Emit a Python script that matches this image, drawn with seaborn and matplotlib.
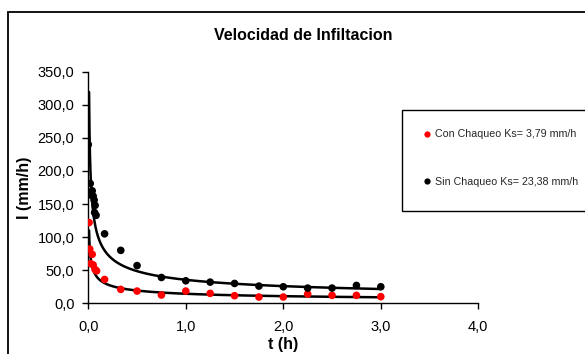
import numpy as np
import pandas as pd
import matplotlib
matplotlib.use("Agg")
import matplotlib.pyplot as plt
from matplotlib.patches import Rectangle
from matplotlib.lines import Line2D
import seaborn as sns

# Measured infiltration rates, I (mm/h) against time t (h)
con_t = [0.008, 0.015, 0.025, 0.04, 0.05, 0.07, 0.085, 0.167, 0.333, 0.5,
         0.75, 1.0, 1.25, 1.5, 1.75, 2.0, 2.25, 2.5, 2.75, 3.0]
con_I = [122, 82, 60, 74, 58, 51, 49, 36, 21, 18.5,
         12.5, 18.5, 15, 11.5, 9.5, 9.5, 14, 12, 12, 10]

sin_t = [0.0, 0.01, 0.02, 0.04, 0.05, 0.06, 0.065, 0.07, 0.08, 0.167, 0.333,
         0.5, 0.75, 1.0, 1.25, 1.5, 1.75, 2.0, 2.25, 2.5, 2.75, 3.0]
sin_I = [240, 164, 181, 170, 162, 156, 137, 148, 133, 105, 80,
         57, 39, 34, 32, 30, 26, 25, 23, 23, 27, 25]

series_names = ["Con Chaqueo Ks= 3,79 mm/h", "Sin Chaqueo Ks= 23,38 mm/h"]
series_colors = ["#FF0000", "#000000"]

# Power-law fit I = K * t^(-n) for each series
fit_K = [14.4, 35.5]
fit_n = [0.419, 0.4526]
fit_t_start = 0.0078
fit_t_end = 3.0

y_ticks = [0, 50, 100, 150, 200, 250, 300, 350]
x_ticks = [0, 1, 2, 3, 4]

pts = pd.concat([
    pd.DataFrame({"t": con_t, "I": con_I, "serie": series_names[0]}),
    pd.DataFrame({"t": sin_t, "I": sin_I, "serie": series_names[1]}),
], ignore_index=True)

sns.set_theme(style="white")
plt.rcParams["font.family"] = ["Liberation Sans", "DejaVu Sans"]

W, H = 585, 354
fig = plt.figure(figsize=(W / 100, H / 100), dpi=100)
fig.patch.set_facecolor("white")

def fx(px):
    return px / W

def fy(py):
    return 1 - py / H

ax = fig.add_axes([fx(88.3), fy(303.3), fx(478.3) - fx(88.3), fy(71.7) - fy(303.3)])
ax.set_facecolor("white")

# Fitted curves
tgrid = np.geomspace(fit_t_start, fit_t_end, 500)
for K, n in zip(fit_K, fit_n):
    sns.lineplot(x=tgrid, y=K * tgrid ** (-n), ax=ax, color="black",
                 linewidth=1.8, estimator=None, sort=False, zorder=3)

sns.scatterplot(data=pts, x="t", y="I", hue="serie", palette=series_colors,
                hue_order=series_names, s=30, edgecolor="none", ax=ax,
                legend=False, zorder=4)

ax.set_xlim(0, 4)
ax.set_ylim(0, 350)
ax.set_xticks(x_ticks)
ax.set_yticks(y_ticks)
ax.set_xticklabels([f"{v:.1f}".replace(".", ",") for v in x_ticks], fontsize=10.5)
ax.set_yticklabels([f"{v:.1f}".replace(".", ",") for v in y_ticks], fontsize=10.5)
ax.tick_params(axis="both", direction="out", length=4, width=1, color="black",
               labelcolor="black", bottom=True, left=True)
ax.tick_params(axis="x", pad=8)
ax.tick_params(axis="y", pad=6)
for side in ["top", "right"]:
    ax.spines[side].set_visible(False)
for side in ["left", "bottom"]:
    ax.spines[side].set_color("black")
    ax.spines[side].set_linewidth(1)
ax.grid(False)

ax.set_xlabel("t (h)", fontsize=11.5, fontweight="bold", color="black")
ax.set_ylabel("I (mm/h)", fontsize=11.5, fontweight="bold", color="black")
ax.xaxis.label.set_va("center")
ax.xaxis.set_label_coords(0.5, (303.3 - 344) / 231.6)
ax.yaxis.label.set_va("center")
ax.yaxis.set_label_coords((25 - 88.3) / 390, 0.5)

fig.text(fx(303), fy(35), "Velocidad de Infiltacion", ha="center", va="center",
         fontsize=11.5, fontweight="bold", color="black")

# Legend box running off the right edge of the chart
fig.patches.append(Rectangle((fx(402), fy(211)), fx(620) - fx(402), fy(110) - fy(211),
                             transform=fig.transFigure, facecolor="white",
                             edgecolor="black", linewidth=1.0, zorder=1))
handles = [Line2D([], [], linestyle="none", marker="o", markersize=4.5,
                  markerfacecolor=c, markeredgecolor="none") for c in series_colors]
leg = fig.legend(handles, series_names, loc="upper left",
                 bbox_to_anchor=(fx(402), fy(110)), bbox_transform=fig.transFigure,
                 fontsize=7.7, frameon=False, borderpad=1.8,
                 labelspacing=3.5, handlelength=1.0, handletextpad=0.3,
                 borderaxespad=0)
leg.set_zorder(5)

# Chart border
fig.patches.append(Rectangle((fx(8), -0.2), 1.5, fy(12) + 0.2,
                             transform=fig.transFigure, fill=False,
                             edgecolor="black", linewidth=1.3))

fig.savefig("out.png", dpi=100)
